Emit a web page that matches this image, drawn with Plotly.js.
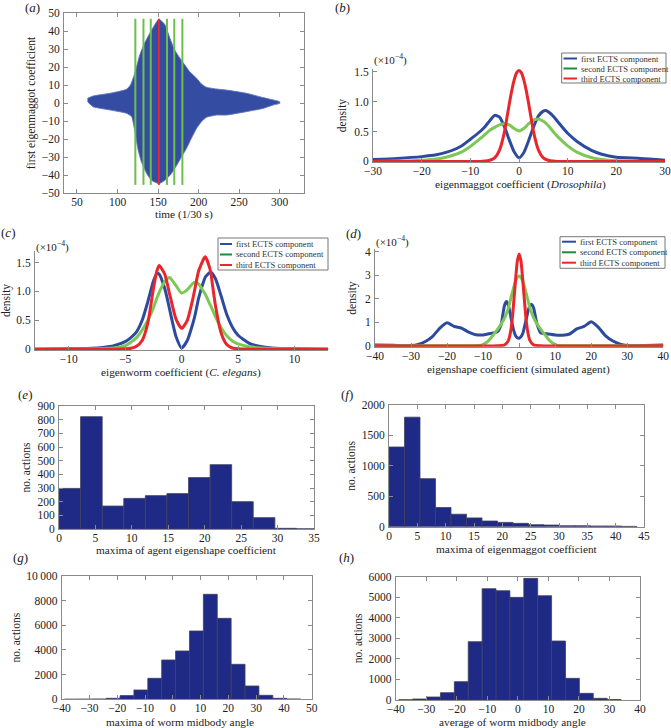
<!DOCTYPE html>
<html><head><meta charset="utf-8">
<script src="https://cdn.plot.ly/plotly-3.0.1.min.js"></script>
<style>html,body{margin:0;padding:0;background:#fff;}#plot{width:671px;height:728px;}</style>
</head><body><div id="plot"></div>
<script>
// ---------- (a) envelope of first eigenmaggot coefficient over time ----------
const aUpperX = [63, 70, 91, 111, 116, 120, 123.5, 127.5, 133.5, 140, 146, 151, 158.5, 164.5, 170.5, 177, 183, 189, 197.5, 203.5, 209.5, 222, 234, 259, 279.5, 288, 300];
const aUpperY = [2.6, 3.9, 5.4, 7.6, 10, 14.7, 20.2, 26.8, 33.3, 38.9, 43.5, 46.6, 43.5, 36.1, 29.5, 24.9, 21.2, 17.4, 13.8, 10.6, 8.8, 7.8, 7.2, 5.4, 3, 2.1, 0.7];
const aLowerX = [63, 70, 91, 111, 117.5, 120, 122.5, 125.5, 129.5, 136, 142, 151, 158.5, 166.5, 173, 179, 185, 191, 197.5, 203.5, 209.5, 222, 234, 259, 279.5, 292, 300];
const aLowerY = [0.7, -2.1, -3.9, -5.7, -7.6, -12.3, -18.8, -26.2, -32.7, -39.2, -42.9, -44.8, -42.9, -39.2, -34.6, -29.9, -25.3, -19.7, -14.1, -10.4, -8, -6.7, -6.7, -4.8, -3, -1.1, -0.2];
const aGreenTimes = [122, 132, 141, 161, 170, 180];
const aRedTimes = [151];
const aMarkerSpan = [-45.5, 46.8];

// ---------- (b) Drosophila densities (x1e-4) ----------
const bX = [-30,-25,-20,-17,-15,-12,-10,-8,-7,-6,-5,-4,-3,-2,-1,0,1,2,3,4,5,5.5,6,7,8,10,12,15,17,20,25,30];
const bFirst  = [0.03,0.05,0.08,0.11,0.15,0.25,0.37,0.5,0.58,0.68,0.77,0.74,0.58,0.36,0.16,0.06,0.15,0.35,0.58,0.76,0.84,0.85,0.83,0.76,0.66,0.47,0.33,0.18,0.12,0.07,0.05,0.02];
const bSecond = [0,0.005,0.02,0.04,0.07,0.15,0.25,0.38,0.45,0.52,0.57,0.61,0.63,0.61,0.55,0.51,0.55,0.63,0.69,0.71,0.67,0.64,0.6,0.5,0.41,0.26,0.15,0.06,0.03,0.01,0,0];
const bThirdX = [-30,-8,-7,-6,-5,-4,-3,-2.5,-2,-1.5,-1,-0.5,0,0.5,1,1.5,2,2.5,3,4,5,6,7,8,30];
const bThird  = [0,0,0.005,0.02,0.06,0.19,0.49,0.72,0.96,1.18,1.36,1.48,1.52,1.48,1.36,1.18,0.96,0.72,0.49,0.19,0.06,0.02,0.005,0,0];

// ---------- (c) C. elegans densities (x1e-4) ----------
const cX = [-13,-10,-8,-7,-6,-5,-4.5,-4,-3.5,-3,-2.5,-2.2,-2,-1.5,-1.1,-1,-0.5,0,0.5,1,1.2,1.5,2,2.1,2.5,2.6,3,3.5,4,4.5,5,6,7,8,10,13];
const cFirst  = [0,0.005,0.015,0.03,0.06,0.13,0.2,0.3,0.5,0.82,1.18,1.31,1.3,1.05,0.72,0.63,0.22,0.02,0.15,0.45,0.6,0.88,1.2,1.25,1.33,1.33,1.22,0.92,0.6,0.38,0.24,0.1,0.045,0.02,0.005,0];
const cSecond = [0,0.002,0.005,0.01,0.02,0.06,0.12,0.2,0.33,0.5,0.72,0.88,0.98,1.17,1.24,1.23,1.1,0.97,1.03,1.14,1.16,1.13,0.98,0.95,0.78,0.74,0.56,0.37,0.23,0.14,0.09,0.04,0.02,0.01,0.002,0];
const cThird  = [0,0,0,0,0,0.005,0.015,0.05,0.15,0.45,1.05,1.35,1.45,1.3,0.98,0.9,0.52,0.36,0.5,0.88,1.07,1.35,1.58,1.6,1.4,1.3,0.75,0.28,0.08,0.02,0.005,0,0,0,0,0];

// ---------- (d) simulated agent densities (x1e-4) ----------
const dFirstX = [-40,-35,-32,-30,-28,-26,-24,-22,-20,-18,-16,-14,-12,-10,-8,-6,-5,-4.5,-4,-3.5,-3,-2.5,-2,-1.5,-1,-0.5,0,0.5,1,1.5,2,2.5,3,3.5,4,4.5,5,6,8,10,12,14,16,18,20,22,24,26,28,30,32,35,40];
const dFirst  = [0.03,0.02,0.005,0.01,0.06,0.18,0.4,0.75,0.98,0.82,0.75,0.58,0.47,0.46,0.52,0.6,0.9,1.35,1.75,1.88,1.72,1.38,0.98,0.64,0.43,0.34,0.32,0.38,0.52,0.82,1.15,1.5,1.7,1.76,1.62,1.25,0.9,0.55,0.5,0.46,0.45,0.5,0.72,0.82,1.02,0.78,0.42,0.2,0.07,0.01,0,0.01,0.03];
const dSecondX = [-40,-12,-11,-10,-9,-8,-7,-6,-5,-4,-3,-2,-1,-0.5,0,0.5,1,2,3,4,5,6,7,8,9,10,11,12,40];
const dSecond  = [0,0,0.01,0.05,0.15,0.3,0.5,0.7,0.92,1.2,1.6,2.2,2.75,2.9,2.97,2.9,2.75,2.2,1.6,1.2,0.92,0.7,0.5,0.3,0.15,0.05,0.01,0,0];
const dThirdX = [-40,-6,-4,-3,-2.5,-2,-1.5,-1,-0.5,0,0.5,1,1.5,2,2.5,3,4,6,40];
const dThird  = [0,0,0.04,0.22,0.5,1.0,1.85,2.8,3.6,3.9,3.6,2.8,1.85,1.0,0.5,0.22,0.04,0,0];

// ---------- (e)-(h) histograms ----------
const eEdges = [0,2.96,5.93,8.89,11.85,14.81,17.78,20.74,23.7,26.66,29.63,32.59,35.55];
const eCounts = [297,822,168,224,244,259,376,471,200,83,5,1];
const fEdges = [0,2.74,5.47,8.21,10.94,13.68,16.41,19.15,21.88,24.62,27.35,30.09,32.82,35.56,38.29,41.03,43.76];
const fCounts = [1310,1800,790,315,205,145,93,71,55,33,27,16,16,11,11,5];
const gEdges = [-39,-34,-29,-24,-19,-14,-9,-4,1,6,11,16,21,26,31,36,41,46];
const gCounts = [5,10,20,80,300,757,1703,3189,3919,5540,8514,6568,2838,1081,324,81,20];
const hEdges = [-39,-34.45,-29.9,-25.35,-20.8,-16.25,-11.7,-7.15,-2.6,1.95,6.5,11.05,15.6,20.15,24.7,29.25,33.8];
const hCounts = [10,50,146,357,892,2838,5416,5319,4994,5919,5075,2870,1054,324,81,20];

const seriesNames = ['first ECTS component','second ECTS component','third ECTS component'];

// ---------- styling ----------
const W = 671, H = 728;
const FONT = 'Liberation Serif';
const BLUE = '#2d4a9e', GREEN = '#7cc855', RED = '#e8262b';
const LEG_COLORS = ['#2d4a9e', '#1f8a3a', '#e8262b'];
const px = v => v / W, py = v => 1 - v / H;
const dx = (l, r) => [px(l), px(r)];
const dy = (t, b) => [py(b), py(t)];
const tickfont = {family: FONT, size: 11.5, color: '#222'};
const titlefont = {family: FONT, size: 11.5, color: '#222'};

function axis(domain, range, extra, title, standoff, boxed, isX) {
  return Object.assign({
    domain, range, showgrid: false, zeroline: false, showline: true,
    linecolor: '#8a8a8a', linewidth: 1, ticks: 'inside', ticklen: 4, tickcolor: '#8a8a8a',
    mirror: boxed ? 'ticks' : false, tickfont, automargin: false, ticklabelstandoff: isX ? -2 : 1,
    title: {text: title, font: titlefont, standoff: standoff}
  }, extra);
}

const traces = [];
// (a)
traces.push({
  x: aUpperX.concat(aLowerX.slice().reverse()),
  y: aUpperY.concat(aLowerY.slice().reverse()),
  type: 'scatter', mode: 'lines', fill: 'toself', fillcolor: 'rgb(52,76,162)',
  line: {color: 'rgba(95,115,190,0.9)', width: 1, shape: 'spline', smoothing: 0.5},
  xaxis: 'x', yaxis: 'y', hoverinfo: 'skip'
});
aGreenTimes.forEach(t => traces.push({x: [t, t], y: aMarkerSpan, type: 'scatter', mode: 'lines',
  line: {color: '#6cc04a', width: 2}, xaxis: 'x', yaxis: 'y', hoverinfo: 'skip'}));
aRedTimes.forEach(t => traces.push({x: [t, t], y: aMarkerSpan, type: 'scatter', mode: 'lines',
  line: {color: RED, width: 2}, xaxis: 'x', yaxis: 'y', hoverinfo: 'skip'}));

function kde(x, y, color, n) {
  return {x, y, type: 'scatter', mode: 'lines', line: {color, width: 3, shape: 'spline', smoothing: 0.6},
    xaxis: 'x' + n, yaxis: 'y' + n, hoverinfo: 'skip'};
}
traces.push(kde(bX, bFirst, BLUE, 2), kde(bX, bSecond, GREEN, 2), kde(bThirdX, bThird, RED, 2));
traces.push(kde(cX, cFirst, BLUE, 3), kde(cX, cSecond, GREEN, 3), kde(cX, cThird, RED, 3));
traces.push(kde(dFirstX, dFirst, BLUE, 4), kde(dSecondX, dSecond, GREEN, 4), kde(dThirdX, dThird, RED, 4));

function hist(edges, counts, n) {
  const x = [], w = [];
  for (let i = 0; i < counts.length; i++) { x.push((edges[i] + edges[i + 1]) / 2); w.push(edges[i + 1] - edges[i]); }
  return {type: 'bar', x, y: counts, width: w, marker: {color: '#1f2a86', line: {color: '#40405e', width: 0.8}},
    xaxis: 'x' + n, yaxis: 'y' + n, hoverinfo: 'skip'};
}
traces.push(hist(eEdges, eCounts, 5), hist(fEdges, fCounts, 6), hist(gEdges, gCounts, 7), hist(hEdges, hCounts, 8));

const dens = '0 0.5 1.0 1.5'.split(' ');
const layout = {
  width: W, height: H, margin: {l: 0, r: 0, t: 0, b: 0}, showlegend: false,
  paper_bgcolor: '#fff', plot_bgcolor: '#fff', font: {family: FONT, color: '#222'},
  xaxis:  axis(dx(64, 304), [34, 330], {tick0: 50, dtick: 50, anchor: 'y'}, '', 4, true, true),
  yaxis:  axis(dy(13, 193), [-50, 50], {dtick: 10, anchor: 'x'}, 'first eigenmaggot coefficient', 3, true),
  xaxis2: axis(dx(373, 665), [-30, 30], {dtick: 10, anchor: 'y2'}, '', 3, false, true),
  yaxis2: axis(dy(68.7, 162.3), [-0.015, 1.55], {tickvals: [0, 0.5, 1, 1.5], ticktext: dens, anchor: 'x2'}, 'density', 5, false),
  xaxis3: axis(dx(35, 328.3), [-13, 13], {tickvals: [-10, -5, 0, 5, 10], anchor: 'y3'}, '', 3, false, true),
  yaxis3: axis(dy(251, 350), [-0.015, 1.7], {tickvals: [0, 0.5, 1, 1.5], ticktext: dens, anchor: 'x3'}, 'density', 5, false),
  xaxis4: axis(dx(375, 663.3), [-40, 40], {dtick: 10, anchor: 'y4'}, '', 3, false, true),
  yaxis4: axis(dy(249.3, 346.7), [-0.04, 4.1], {tickvals: [0, 1, 2, 3, 4], anchor: 'x4'}, 'density', 5, false),
  xaxis5: axis(dx(59, 314), [0, 35], {dtick: 5, anchor: 'y5'}, '', 3, true, true),
  yaxis5: axis(dy(406, 529), [0, 900], {dtick: 100, anchor: 'x5'}, 'no. actions', 4, true),
  xaxis6: axis(dx(389, 644), [0, 45], {dtick: 5, anchor: 'y6'}, '', 3, true, true),
  yaxis6: axis(dy(405, 526.7), [0, 2000], {tickvals: [0, 500, 1000, 1500, 2000], anchor: 'x6'}, 'no. actions', 3, true),
  xaxis7: axis(dx(61.7, 311.7), [-40, 50], {dtick: 10, anchor: 'y7'}, '', 3, true, true),
  yaxis7: axis(dy(576, 699.3), [0, 10000], {tickvals: [0, 2000, 4000, 6000, 8000, 10000],
    ticktext: ['0', '2000', '4000', '6000', '8000', '10\u2009000'], anchor: 'x7'}, 'no. actions', 3, true),
  xaxis8: axis(dx(395.7, 640), [-40, 40], {dtick: 10, anchor: 'y8'}, '', 3, true, true),
  yaxis8: axis(dy(576.7, 700), [0, 6000], {tickvals: [0, 1000, 2000, 3000, 4000, 5000, 6000], anchor: 'x8'}, 'no. actions', 3, true),
  annotations: [], shapes: []
};

function note(text, x, y, opts) {
  layout.annotations.push(Object.assign({text, x: px(x), y: py(y), xref: 'paper', yref: 'paper',
    showarrow: false, xanchor: 'center', yanchor: 'middle', font: {family: FONT, size: 13, color: '#222'}}, opts || {}));
}
[['a', 32, 8], ['b', 343, 8], ['c', 8, 233], ['d', 353, 234], ['e', 25, 395], ['f', 347, 395], ['g', 20, 557], ['h', 347, 557]]
  .forEach(([l, x, y]) => note('(<i>' + l + '</i>)', x, y));
[[390, 59], [52, 246], [392, 242]].forEach(([x, y]) => note('(×10<sup>−4</sup>)', x, y, {font: {family: FONT, size: 11, color: '#222'}}));

// x-axis titles
const tf = {font: {family: FONT, size: 11.3, color: '#222'}};
note('time (1/30 s)', 184, 214.5, tf);
note('eigenmaggot coefficient (<i>Drosophila</i>)', 520, 184, tf);
note('eigenworm coefficient (<i>C. elegans</i>)', 181, 373, tf);
note('eigenshape coefficient (simulated agent)', 518, 369, tf);
note('maxima of agent eigenshape coefficient', 187, 550, tf);
note('maxima of eigenmaggot coefficient', 517, 549, tf);
note('maxima of worm midbody angle', 180, 721.5, tf);
note('average of worm midbody angle', 512, 721.5, tf);

function legendBox(l, t, r, b, rows, lineL, lineR, textX) {
  layout.shapes.push({type: 'rect', xref: 'paper', yref: 'paper', x0: px(l), x1: px(r), y0: py(b), y1: py(t),
    line: {color: '#777', width: 1}, fillcolor: '#fff'});
  rows.forEach((ry, i) => {
    layout.shapes.push({type: 'line', xref: 'paper', yref: 'paper', x0: px(lineL), x1: px(lineR), y0: py(ry), y1: py(ry),
      line: {color: LEG_COLORS[i], width: 2}});
    note(seriesNames[i], textX, ry, {xanchor: 'left', font: {family: FONT, size: 8.6, color: '#333'}});
  });
}
legendBox(561.7, 53, 666, 83, [58.5, 68.5, 78.5], 563.5, 577, 579);
legendBox(218, 238, 328, 270, [244, 254.5, 265], 220, 232, 234);
legendBox(560, 236.7, 665, 268.3, [241.7, 252.3, 262.7], 562, 576, 578);

Plotly.newPlot('plot', traces, layout, {staticPlot: true});
</script></body></html>
